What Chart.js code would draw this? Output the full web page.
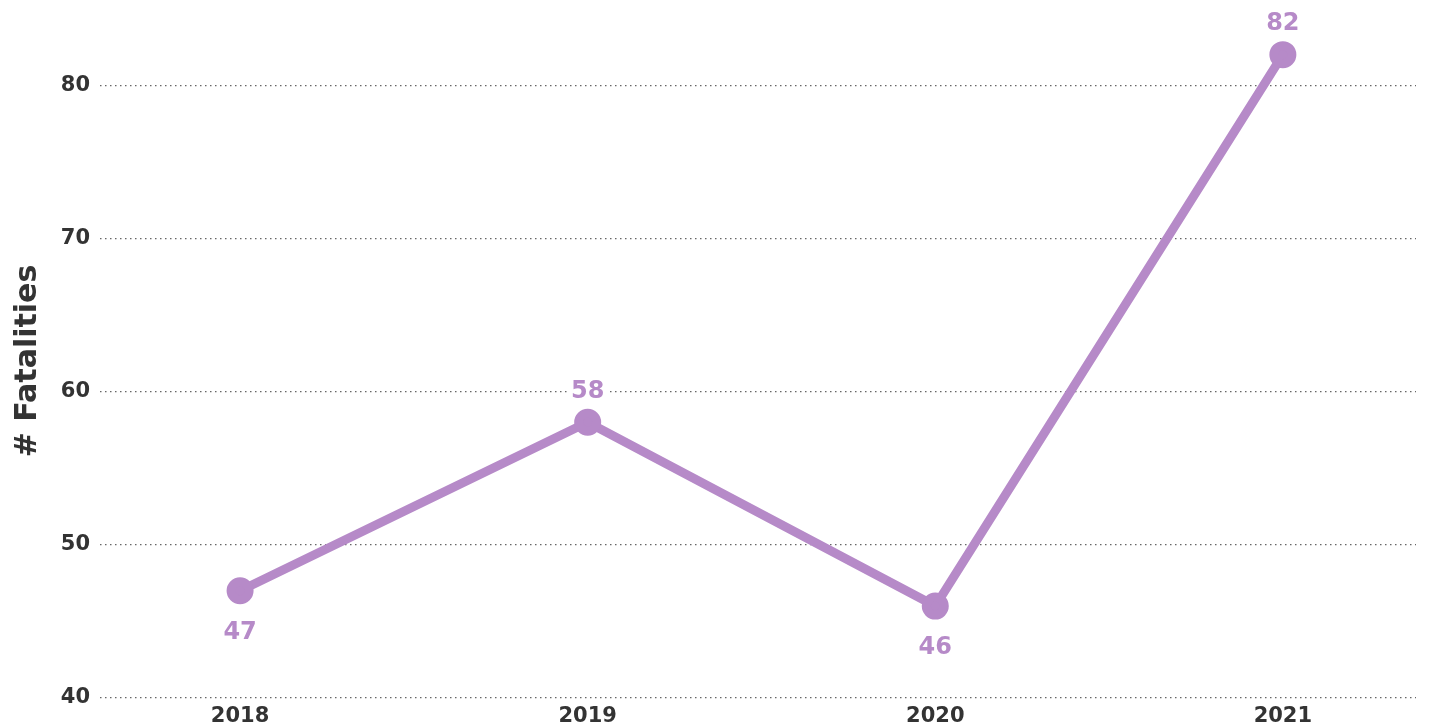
<!DOCTYPE html>
<html>
<head>
<meta charset="utf-8">
<script src="https://cdn.jsdelivr.net/npm/chart.js@4/dist/chart.umd.min.js"></script>
<style>
  html, body { margin: 0; padding: 0; background: #fff; overflow: hidden; }
</style>
</head>
<body>
<canvas id="myChart" width="1434" height="728"></canvas>
<script>
// yearly fatalities
let years = [2018, 2019, 2020, 2021]
let fatalities = [47, 58, 46, 82]
let yTicks = [40, 50, 60, 70, 80]
// label above (-1) or below (+1) the point
let labelSide = [1, -1, 1, -1]

const purple = "#b68ac8";
const fontFam = "'DejaVu Sans', Verdana, sans-serif";

// draws the value next to each point on a white box
const valueLabels = {
    id: "valueLabels",
    afterDatasetsDraw(chart) {
        let ctx = chart.ctx;
        let meta = chart.getDatasetMeta(0);
        ctx.save();
        ctx.font = "bold 24px " + fontFam;
        ctx.textAlign = "center";
        ctx.textBaseline = "middle";
        meta.data.forEach((pt, i) => {
            let txt = String(fatalities[i]);
            let y = pt.y + (labelSide[i] > 0 ? 41 : -32);
            let w = ctx.measureText(txt).width;
            ctx.fillStyle = "#fff";
            ctx.fillRect(pt.x - w / 2 - 4, y - 13, w + 8, 26);
            ctx.fillStyle = purple;
            ctx.fillText(txt, pt.x, y + 1);
        });
        ctx.restore();
    }
};

new Chart("myChart", {
    type: "line",
    data: {
        datasets: [{
            data: years.map((y, i) => ({ x: y, y: fatalities[i] })),
            borderColor: purple,
            backgroundColor: purple,
            borderWidth: 9,
            pointRadius: 9,
            pointHoverRadius: 9,
            tension: 0,
            clip: false
        }]
    },
    options: {
        responsive: false,
        animation: false,
        layout: { padding: { top: 24, right: 12, left: 10, bottom: 0 } },
        plugins: {
            legend: { display: false },
            tooltip: { enabled: false }
        },
        scales: {
            x: {
                type: "linear",
                min: 2017.597,
                max: 2021.383,
                afterBuildTicks: s => { s.ticks = years.map(v => ({ value: v })) },
                afterFit: s => { s.height = 30 },
                grid: { display: false, drawTicks: false },
                border: { display: false },
                ticks: {
                    padding: 6,
                    color: "#333",
                    font: { family: fontFam, size: 21, weight: "bold" },
                    callback: v => String(v)
                }
            },
            y: {
                min: 40,
                max: 84,
                afterBuildTicks: s => { s.ticks = yTicks.map(v => ({ value: v })) },
                afterFit: s => { s.width = 90 },
                grid: { color: "#666", lineWidth: 1.2, drawTicks: false },
                border: { display: false, dash: [1.5, 3.5] },
                ticks: {
                    padding: 10,
                    color: "#333",
                    font: { family: fontFam, size: 21, weight: "bold" }
                },
                title: {
                    display: true,
                    text: "# Fatalities",
                    color: "#333",
                    padding: { top: 0, bottom: 0 },
                    font: { family: fontFam, size: 30, weight: "bold" }
                }
            }
        }
    },
    plugins: [valueLabels]
});
</script>
</body>
</html>
